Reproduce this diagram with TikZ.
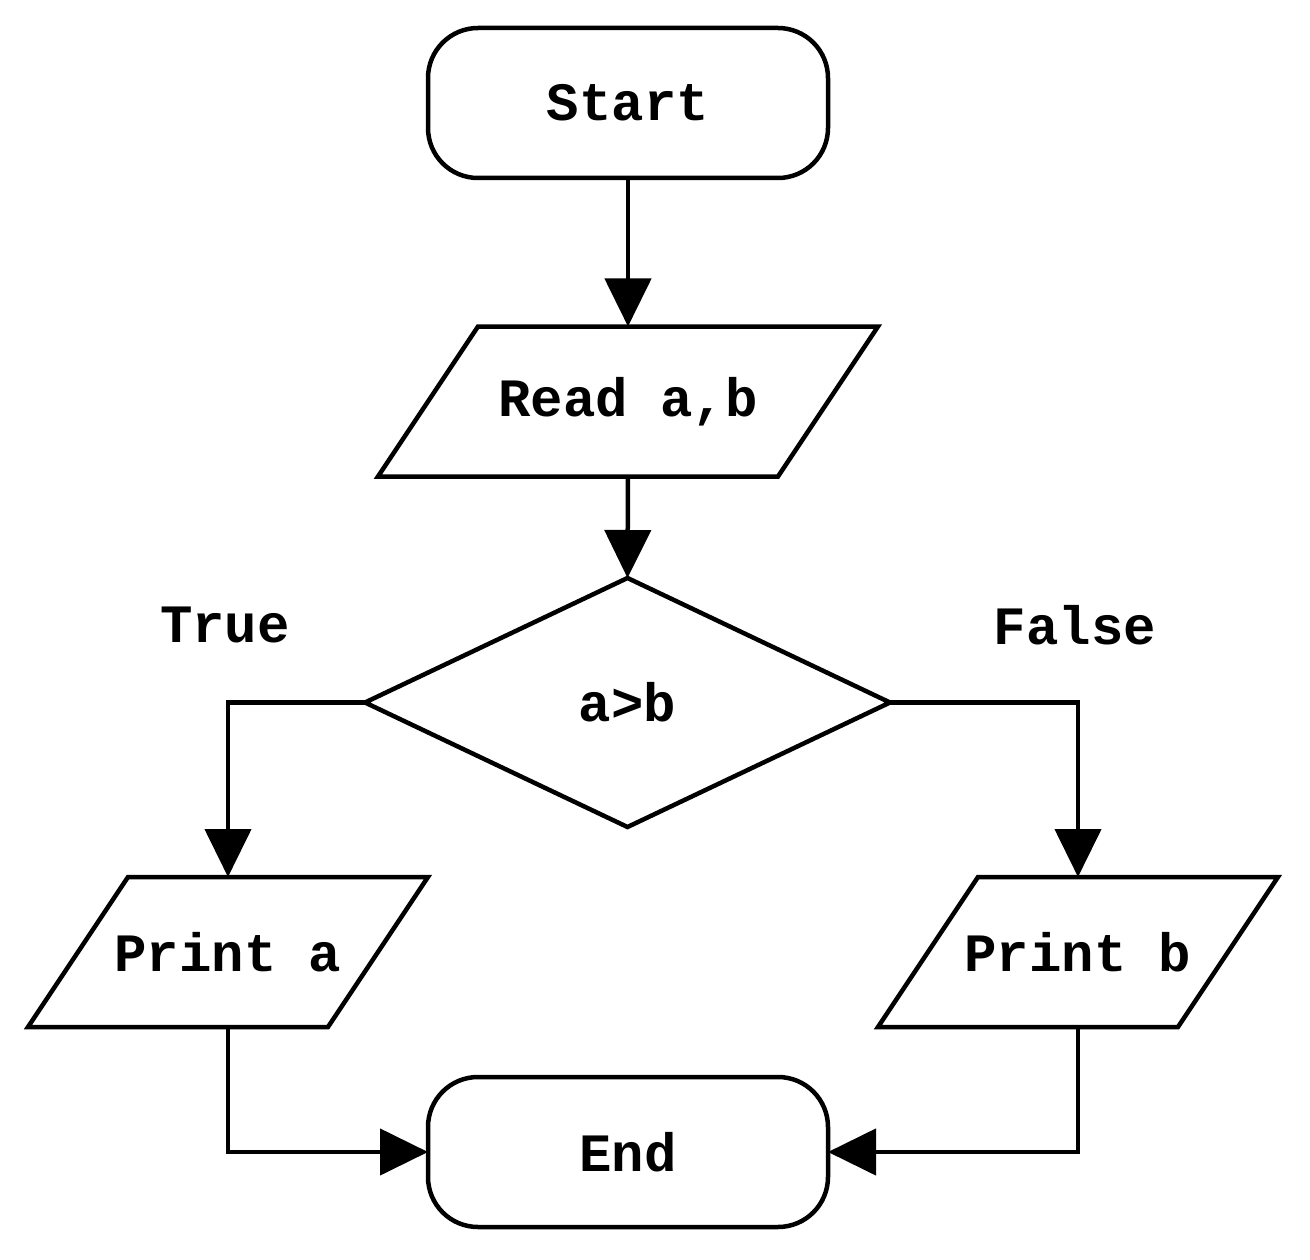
\documentclass[tikz,border=0pt]{standalone}
\usepackage{fontspec}
\setmonofont{Liberation Mono}
\usetikzlibrary{shapes.geometric,arrows.meta}
\tikzset{
  txt/.style={font=\fontsize{54}{60}\selectfont\ttfamily\bfseries},
  base/.style={txt, line width=4.5pt, inner sep=0pt, outer sep=0pt},
  term/.style={base, draw, rectangle, rounded corners=50pt, minimum width=400pt, minimum height=150pt},
  io/.style={base, rectangle, minimum width=400pt, minimum height=150pt},
  ioline/.style={draw, line width=4.5pt, line join=miter},
  decision/.style={base, draw, diamond, minimum width=525pt, minimum height=249pt},
  arr/.style={line width=4.5pt, -{Triangle[length=48pt,width=46pt]}}
}
\newcommand\drawio[1]{%
  \draw[ioline] ([xshift=-50pt]#1.south west) -- ([xshift=-50pt]#1.south east)
    -- ([xshift=50pt]#1.north east) -- ([xshift=50pt]#1.north west) -- cycle;}
\begin{document}
\begin{tikzpicture}[x=1pt,y=-1pt]
\useasboundingbox (0,0) rectangle (1310,1260);
\node[term] (start) at (628,103) {Start};
\node[io] (read) at (628,401.5) {Read a,b};
\node[decision] (dec) at (627.5,702.5) {a>b};
\node[io, minimum width=300pt] (pa) at (228,952) {Print a};
\node[io, minimum width=300pt] (pb) at (1078,952) {Print b};
\node[term] (end) at (628,1152) {End};
\node[txt] (tlab) at (225,625) {True};
\node[txt] (flab) at (1075,625) {False};
\drawio{read}
\drawio{pa}
\drawio{pb}
\draw[arr] (start.south) -- (read.north);
\draw[arr] (read.south) -- (dec.north);
\draw[arr] (dec.west) -| (pa.north);
\draw[arr] (dec.east) -| (pb.north);
\draw[arr] (pa.south) |- (end.west);
\draw[arr] (pb.south) |- (end.east);
\end{tikzpicture}
\end{document}
